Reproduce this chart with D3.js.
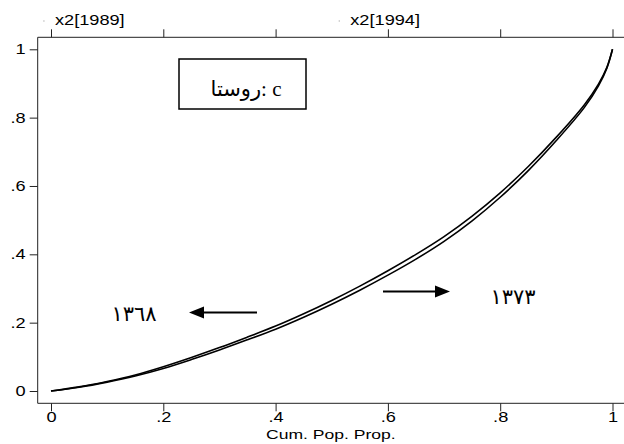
<!DOCTYPE html>
<html>
<head>
<meta charset="utf-8">
<script src="https://cdn.jsdelivr.net/npm/d3@7"></script>
<style>
  body { margin: 0; background: #fff; }
  svg { display: block; }
</style>
</head>
<body>
<div id="chart"></div>
<script>
// cumulative population share and the two Lorenz curves (rural)
const popShare  = [0, .05, .1, .15, .2, .25, .3, .35, .4, .45, .5, .55, .6, .65, .7, .75, .8, .85, .9, .95, .975, .99, 1];
const lorenz1368 = [0, .012, .028, .047, .071, .098, .127, .158, .190, .226, .265, .307, .352, .400, .452, .512, .580, .657, .743, .838, .898, .947, 1];
const lorenz1373 = [0, .011, .026, .044, .066, .092, .120, .150, .181, .216, .254, .295, .339, .386, .438, .498, .567, .645, .733, .830, .893, .945, 1];

const xTicks = [0, .2, .4, .6, .8, 1];
const yTicks = [0, .2, .4, .6, .8, 1];
const topLabels = [{ p: .007, text: "x2[1989]" }, { p: .533, text: "x2[1994]" }];

const width = 624, height = 444;
const sx = 1.3; // stretched text like the original export

const svg = d3.select("#chart").append("svg")
  .attr("width", width)
  .attr("height", height)
  .attr("viewBox", `0 0 ${width} ${height}`);

const xScale = d3.scaleLinear().domain([0, 1]).range([51, 612.5]);
const yScale = d3.scaleLinear().domain([0, 1]).range([391, 49.3]);

const frame = { left: 37.7, top: 37.3, bottom: 403.3, right: 630 };
const fmt = d => d == 0 ? "0" : d == 1 ? "1" : d3.format(".1f")(d).replace(/^0/, "");

// frame
svg.append("path")
  .attr("d", `M${frame.right},${frame.top}H${frame.left}V${frame.bottom}H${frame.right}`)
  .attr("fill", "none")
  .attr("stroke", "#222")
  .attr("stroke-width", 1);

// axes
const yAxis = svg.append("g")
  .attr("transform", `translate(${frame.left},0)`)
  .call(d3.axisLeft(yScale).tickValues(yTicks).tickFormat(fmt).tickSize(8).tickPadding(4));

const xAxis = svg.append("g")
  .attr("transform", `translate(0,${frame.bottom})`)
  .call(d3.axisBottom(xScale).tickValues(xTicks).tickFormat(fmt).tickSize(8).tickPadding(1));

const topAxis = svg.append("g")
  .attr("transform", `translate(0,${frame.top})`)
  .call(d3.axisTop(xScale).tickValues(xTicks).tickFormat("").tickSize(8));

[yAxis, xAxis, topAxis].forEach(g => {
  g.select(".domain").remove();
  g.selectAll("line").attr("stroke", "#222");
  g.selectAll("text")
    .attr("fill", "#000")
    .style("font-family", "'Liberation Sans', Arial, sans-serif")
    .style("font-size", "14px");
});
yAxis.selectAll("text").attr("transform", `scale(${sx},1)`).attr("x", -12 / sx);
xAxis.selectAll("text").attr("transform", `scale(${sx},1)`);

// top labels
topLabels.forEach(l => {
  svg.append("circle")
    .attr("cx", xScale(l.p) - 11)
    .attr("cy", 21)
    .attr("r", 0.8)
    .attr("fill", "#bbb");
  svg.append("text")
    .attr("x", xScale(l.p) / sx)
    .attr("y", 25)
    .attr("transform", `scale(${sx},1)`)
    .style("font-family", "'Liberation Sans', Arial, sans-serif")
    .style("font-size", "14px")
    .text(l.text);
});

// x title
svg.append("text")
  .attr("x", ((frame.left + width) / 2) / sx)
  .attr("y", 439)
  .attr("transform", `scale(${sx},1)`)
  .attr("text-anchor", "middle")
  .style("font-family", "'Liberation Sans', Arial, sans-serif")
  .style("font-size", "13.5px")
  .text("Cum. Pop. Prop.");

// curves
const line = d3.line()
  .x((d, i) => xScale(popShare[i]))
  .y(d => yScale(d))
  .curve(d3.curveCatmullRom);

[lorenz1368, lorenz1373].forEach(s => {
  svg.append("path")
    .datum(s)
    .attr("d", line)
    .attr("fill", "none")
    .attr("stroke", "#000")
    .attr("stroke-width", 1.6);
});

// label box
svg.append("rect")
  .attr("x", 179).attr("y", 59)
  .attr("width", 127).attr("height", 50)
  .attr("fill", "#fff")
  .attr("stroke", "#000")
  .attr("stroke-width", 1.5);

svg.append("text")
  .attr("x", 246)
  .attr("y", 96)
  .attr("text-anchor", "middle")
  .attr("direction", "ltr")
  .style("font-family", "'Liberation Serif', 'DejaVu Sans', serif")
  .style("font-size", "21px")
  .text("روستا: c");

// arrows with year labels
function arrow(x1, x2, y) {
  const dir = Math.sign(x2 - x1);
  svg.append("line")
    .attr("x1", x1).attr("y1", y)
    .attr("x2", x2 - dir * 12).attr("y2", y)
    .attr("stroke", "#000")
    .attr("stroke-width", 1.8);
  svg.append("path")
    .attr("d", `M${x2},${y}L${x2 - dir * 15},${y - 6}L${x2 - dir * 15},${y + 6}Z`)
    .attr("fill", "#000");
}
arrow(257, 189, 312.5);
arrow(383, 450, 291.5);

svg.append("text")
  .attr("x", 134).attr("y", 321)
  .attr("text-anchor", "middle")
  .style("font-family", "'DejaVu Sans', sans-serif")
  .style("font-size", "21px")
  .text("١٣٦٨");

svg.append("text")
  .attr("x", 513).attr("y", 304)
  .attr("text-anchor", "middle")
  .style("font-family", "'DejaVu Sans', sans-serif")
  .style("font-size", "21px")
  .text("١٣٧٣");
</script>
</body>
</html>
